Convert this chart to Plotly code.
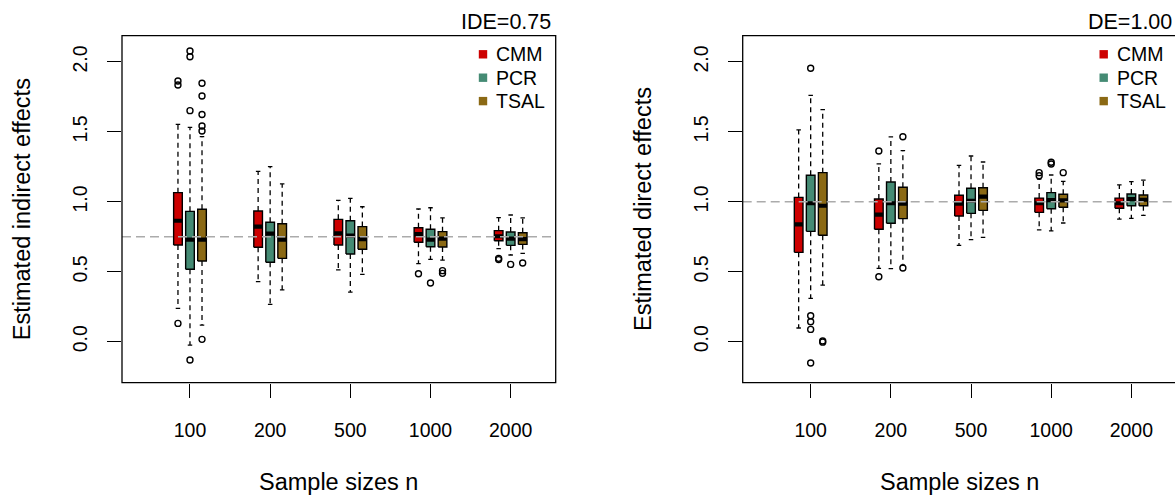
import plotly.graph_objects as go

W, H = 1175, 495

# ---------------- data ----------------
sample_sizes = ["100", "200", "500", "1000", "2000"]
methods = ["CMM", "PCR", "TSAL"]
method_colors = ["#CD0000", "#458B74", "#8B6914"]

ide_true = 0.75
de_true = 1.00

# Indirect effects (rows: CMM, PCR, TSAL; columns: sample sizes)
ide_lower = [[0.239, 0.429, 0.513, 0.558, 0.665],
             [-0.024, 0.267, 0.355, 0.589, 0.620],
             [0.119, 0.370, 0.482, 0.584, 0.632]]
ide_q1 = [[0.691, 0.675, 0.691, 0.711, 0.722],
          [0.518, 0.568, 0.627, 0.679, 0.689],
          [0.577, 0.596, 0.661, 0.677, 0.696]]
ide_median = [[0.865, 0.823, 0.775, 0.770, 0.754],
              [0.730, 0.773, 0.758, 0.730, 0.737],
              [0.730, 0.730, 0.734, 0.737, 0.734]]
ide_q3 = [[1.066, 0.935, 0.875, 0.815, 0.794],
          [0.932, 0.854, 0.865, 0.804, 0.784],
          [0.947, 0.844, 0.823, 0.787, 0.779]]
ide_upper = [[1.554, 1.218, 1.011, 0.949, 0.887],
             [1.533, 1.252, 1.025, 0.958, 0.906],
             [1.466, 1.128, 0.965, 0.885, 0.885]]
ide_out_method = ["CMM", "CMM", "CMM", "CMM", "CMM", "CMM",
                  "PCR", "PCR", "PCR", "PCR", "PCR", "PCR",
                  "TSAL", "TSAL", "TSAL", "TSAL", "TSAL", "TSAL", "TSAL", "TSAL", "TSAL"]
ide_out_size = ["100", "100", "100", "1000", "2000", "2000",
                "100", "100", "100", "100", "1000", "2000",
                "100", "100", "100", "100", "100", "100", "1000", "1000", "2000"]
ide_out_value = [1.864, 1.835, 0.131, 0.486, 0.596, 0.587,
                 2.079, 2.038, 1.652, -0.131, 0.420, 0.553,
                 1.848, 1.757, 1.625, 1.542, 1.507, 0.017, 0.508, 0.489, 0.563]

# Direct effects
de_lower = [[0.098, 0.525, 0.689, 0.799, 0.877],
            [0.310, 0.522, 0.730, 0.792, 0.882],
            [0.405, 0.548, 0.746, 0.849, 0.904]]
de_q1 = [[0.639, 0.804, 0.899, 0.925, 0.954],
         [0.789, 0.847, 0.918, 0.951, 0.972],
         [0.761, 0.880, 0.939, 0.961, 0.972]]
de_median = [[0.839, 0.908, 0.987, 0.990, 0.990],
             [0.990, 0.990, 1.008, 1.013, 1.020],
             [0.972, 0.987, 1.037, 1.011, 1.015]]
de_q3 = [[1.032, 1.020, 1.047, 1.027, 1.027],
         [1.190, 1.142, 1.097, 1.066, 1.056],
         [1.209, 1.104, 1.101, 1.054, 1.049]]
de_upper = [[1.514, 1.271, 1.261, 1.163, 1.121],
            [1.762, 1.464, 1.328, 1.192, 1.144],
            [1.659, 1.366, 1.285, 1.147, 1.156]]
de_out_method = ["CMM", "CMM", "CMM", "CMM",
                 "PCR", "PCR", "PCR", "PCR", "PCR", "PCR", "PCR",
                 "TSAL", "TSAL", "TSAL", "TSAL", "TSAL"]
de_out_size = ["200", "200", "1000", "1000",
               "100", "100", "100", "100", "100", "1000", "1000",
               "100", "100", "200", "200", "1000"]
de_out_value = [1.364, 0.465, 1.209, 1.187,
                1.955, 0.186, 0.143, 0.088, -0.152, 1.283, 1.271,
                0.005, -0.003, 1.466, 0.527, 1.209]

y_tickvals = [0.0, 0.5, 1.0, 1.5, 2.0]
y_ticktext = ["0.0", "0.5", "1.0", "1.5", "2.0"]

# ---------------- layout geometry (pixels) ----------------
FONT = "Liberation Sans, Arial, Helvetica, sans-serif"
PLOT_TOP, PLOT_BOTTOM = 35.7, 382.7
PX_PER_UNIT = 80.17
X_START = 0.152
Y_RANGE = [-0.293, 2.188]
OFFSETS = [-0.15, 0.0, 0.15]
BOX_HW = 0.054
STAPLE_HW = 0.028


def fx(x):
    return x / W


def fy(y):
    return 1 - y / H


panels = [
    dict(left=122.0, right=555.7, lower=ide_lower, q1=ide_q1, med=ide_median, q3=ide_q3,
         upper=ide_upper, om=ide_out_method, os=ide_out_size, ov=ide_out_value,
         ref=ide_true, title="IDE=0.75", ytitle="Estimated indirect effects", ytx=22.0),
    dict(left=742.7, right=1176.4, lower=de_lower, q1=de_q1, med=de_median, q3=de_q3,
         upper=de_upper, om=de_out_method, os=de_out_size, ov=de_out_value,
         ref=de_true, title="DE=1.00", ytitle="Estimated direct effects", ytx=642.7),
]

fig = go.Figure()
shapes = []
annotations = []

for p_i, p in enumerate(panels):
    xa = "x" if p_i == 0 else "x2"
    ya = "y" if p_i == 0 else "y2"
    for m_i, m in enumerate(methods):
        xs_w, ys_w = [], []
        xs_s, ys_s = [], []
        xs_b, ys_b = [], []
        xs_m, ys_m = [], []
        for g in range(len(sample_sizes)):
            c = g + 1 + OFFSETS[m_i]
            lo, a, md, b, hi = (p["lower"][m_i][g], p["q1"][m_i][g], p["med"][m_i][g],
                                p["q3"][m_i][g], p["upper"][m_i][g])
            xs_w += [c, c, None, c, c, None]
            ys_w += [b, hi, None, a, lo, None]
            xs_s += [c - STAPLE_HW, c + STAPLE_HW, None, c - STAPLE_HW, c + STAPLE_HW, None]
            ys_s += [hi, hi, None, lo, lo, None]
            xs_b += [c - BOX_HW, c + BOX_HW, c + BOX_HW, c - BOX_HW, c - BOX_HW, None]
            ys_b += [a, a, b, b, a, None]
            xs_m += [c - BOX_HW, c + BOX_HW, None]
            ys_m += [md, md, None]
        fig.add_trace(go.Scatter(x=xs_w, y=ys_w, mode="lines", xaxis=xa, yaxis=ya,
                                 line=dict(color="black", width=1.3, dash="5px,4px"),
                                 hoverinfo="skip", showlegend=False))
        fig.add_trace(go.Scatter(x=xs_s, y=ys_s, mode="lines", xaxis=xa, yaxis=ya,
                                 line=dict(color="black", width=1.3),
                                 hoverinfo="skip", showlegend=False))
        fig.add_trace(go.Scatter(x=xs_b, y=ys_b, mode="lines", xaxis=xa, yaxis=ya,
                                 fill="toself", fillcolor=method_colors[m_i],
                                 line=dict(color="black", width=1.4),
                                 name=m, showlegend=False))
        fig.add_trace(go.Scatter(x=xs_m, y=ys_m, mode="lines", xaxis=xa, yaxis=ya,
                                 line=dict(color="black", width=4.2),
                                 hoverinfo="skip", showlegend=False))
        ox, oy = [], []
        for mm, ss, vv in zip(p["om"], p["os"], p["ov"]):
            if mm == m:
                ox.append(sample_sizes.index(ss) + 1 + OFFSETS[m_i])
                oy.append(vv)
        fig.add_trace(go.Scatter(x=ox, y=oy, mode="markers", xaxis=xa, yaxis=ya,
                                 marker=dict(symbol="circle-open", size=6, color="black",
                                             line=dict(width=1.4, color="black")),
                                 name=m, showlegend=False))

    # reference line
    shapes.append(dict(type="line", xref=f"{xa} domain", yref=ya, x0=0, x1=1,
                       y0=p["ref"], y1=p["ref"], layer="above",
                       line=dict(color="#ABABAB", width=1.5, dash="9px,5px")))
    # frame
    shapes.append(dict(type="rect", xref="paper", yref="paper",
                       x0=fx(p["left"]), x1=fx(p["right"]),
                       y0=fy(PLOT_BOTTOM), y1=fy(PLOT_TOP), layer="above",
                       line=dict(color="black", width=1.3)))
    # legend
    for m_i, m in enumerate(methods):
        cy = 54.3 + m_i * 23.4
        cx = p["right"] - 72.7
        shapes.append(dict(type="rect", xref="paper", yref="paper",
                           x0=fx(cx - 4.2), x1=fx(cx + 4.2),
                           y0=fy(cy + 4.2), y1=fy(cy - 4.2),
                           fillcolor=method_colors[m_i], line=dict(width=0), layer="above"))
        annotations.append(dict(text=m, xref="paper", yref="paper",
                                x=fx(p["right"] - 61.5), y=fy(cy), xanchor="left",
                                yanchor="middle", showarrow=False,
                                font=dict(family=FONT, size=19.5, color="black")))
    # panel title
    annotations.append(dict(text=p["title"], xref="paper", yref="paper",
                            x=fx(p["right"] - 2.5), y=fy(22.5), xanchor="right",
                            yanchor="middle", showarrow=False,
                            font=dict(family=FONT, size=21.5, color="black")))
    # x-axis title
    annotations.append(dict(text="Sample sizes n", xref="paper", yref="paper",
                            x=fx((p["left"] + p["right"]) / 2), y=fy(481.5),
                            xanchor="center", yanchor="middle", showarrow=False,
                            font=dict(family=FONT, size=23.5, color="black")))
    # y-axis title
    annotations.append(dict(text=p["ytitle"], xref="paper", yref="paper",
                            x=fx(p["ytx"]), y=fy((PLOT_TOP + PLOT_BOTTOM) / 2),
                            xanchor="center", yanchor="middle", textangle=-90,
                            showarrow=False,
                            font=dict(family=FONT, size=23.5, color="black")))

axis_common = dict(showgrid=False, zeroline=False, showline=False, ticks="outside",
                   ticklen=14, tickwidth=1.3, tickcolor="black",
                   tickfont=dict(family=FONT, size=19.5, color="black"))

layout_axes = {}
for p_i, p in enumerate(panels):
    sfx = "" if p_i == 0 else "2"
    right_px = min(p["right"], W)
    layout_axes[f"xaxis{sfx}"] = dict(
        axis_common, domain=[fx(p["left"]), right_px / W],
        range=[X_START, X_START + (right_px - p["left"]) / PX_PER_UNIT],
        tickmode="array", tickvals=[1, 2, 3, 4, 5], ticktext=sample_sizes,
        anchor=f"y{sfx}", ticklabelstandoff=16)
    layout_axes[f"yaxis{sfx}"] = dict(
        axis_common, domain=[fy(PLOT_BOTTOM), fy(PLOT_TOP)], range=Y_RANGE,
        tickmode="array", tickvals=y_tickvals, ticktext=y_ticktext, tickangle=-90,
        anchor=f"x{sfx}", ticklabelstandoff=12)

fig.update_layout(width=W, height=H, margin=dict(l=0, r=0, t=0, b=0),
                  paper_bgcolor="white", plot_bgcolor="white",
                  showlegend=False, shapes=shapes, annotations=annotations,
                  font=dict(family=FONT, color="black"), **layout_axes)

fig.write_html("out.html", config={"displayModeBar": False},
               post_script="document.body.style.margin='0px';"
                           "document.documentElement.style.overflow='hidden';")
